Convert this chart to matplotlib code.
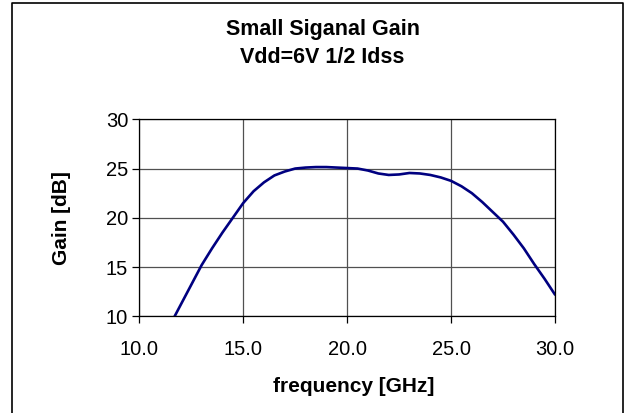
import numpy as np
import matplotlib
matplotlib.use('Agg')
import matplotlib.pyplot as plt
from matplotlib.lines import Line2D

plt.rcParams['font.family'] = ['Liberation Sans', 'DejaVu Sans']

# data
freq_ghz = [11.7, 12.0, 12.5, 13.0, 13.5, 14.0, 14.5, 15.0, 15.5, 16.0, 16.5, 17.0,
            17.5, 18.0, 18.5, 19.0, 19.5, 20.0, 20.5, 21.0, 21.5, 22.0, 22.5, 23.0,
            23.5, 24.0, 24.5, 25.0, 25.5, 26.0, 26.5, 27.0, 27.5, 28.0, 28.5, 29.0,
            29.5, 30.0]
gain_db = [10.0, 11.2, 13.2, 15.2, 16.9, 18.5, 20.0, 21.5, 22.7, 23.6, 24.3, 24.7,
           25.0, 25.1, 25.15, 25.15, 25.1, 25.05, 25.0, 24.8, 24.5, 24.35, 24.4, 24.55,
           24.5, 24.35, 24.1, 23.75, 23.2, 22.5, 21.6, 20.6, 19.6, 18.3, 16.9, 15.3,
           13.8, 12.2]
x_ticks = [10.0, 15.0, 20.0, 25.0, 30.0]
y_ticks = [10, 15, 20, 25, 30]

W, H = 629, 413
fig = plt.figure(figsize=(W / 100, H / 100), dpi=100)
ax = fig.add_axes([139.3 / W, 1 - 316.3 / H, (555 - 139.3) / W, (316.3 - 119.3) / H])

ax.plot(freq_ghz, gain_db, color='#000080', lw=1.9, solid_capstyle='round')
ax.set_xlim(10, 30)
ax.set_ylim(10, 30)
ax.set_xticks(x_ticks)
ax.set_xticklabels([f'{v:.1f}' for v in x_ticks])
ax.set_yticks(y_ticks)
ax.grid(True, color='#505050', lw=0.9)
ax.set_axisbelow(True)
for s in ax.spines.values():
    s.set_color('black')
    s.set_linewidth(0.9)
ax.tick_params(direction='out', length=5, width=0.9, labelsize=14.5)
ax.tick_params(axis='y', pad=3)
ax.tick_params(axis='x', pad=12)

ax.set_xlabel('frequency [GHz]', fontsize=15, fontweight='bold', va='baseline')
ax.xaxis.set_label_coords(0.516, (316.3 - 391.7) / 197)
ax.set_ylabel('Gain [dB]', fontsize=15, fontweight='bold', va='center')
ax.yaxis.set_label_coords((61.7 - 139.3) / 415.7, 0.5)

fig.text(322.5 / W, 1 - 35 / H, 'Small Siganal Gain', ha='center', va='baseline',
         fontsize=15.5, fontweight='bold')
fig.text(322.5 / W, 1 - 63.3 / H, 'Vdd=6V 1/2 Idss', ha='center', va='baseline',
         fontsize=15.5, fontweight='bold')

# outer chart frame (bottom edge is cut off in the reference)
x0, x1, y0 = 12 / W, 623 / W, 1 - 3 / H
fig.add_artist(Line2D([x0, x0, x1, x1], [-0.05, y0, y0, -0.05], color='black', lw=1.2,
                      transform=fig.transFigure))

fig.savefig('out.png', dpi=100)
